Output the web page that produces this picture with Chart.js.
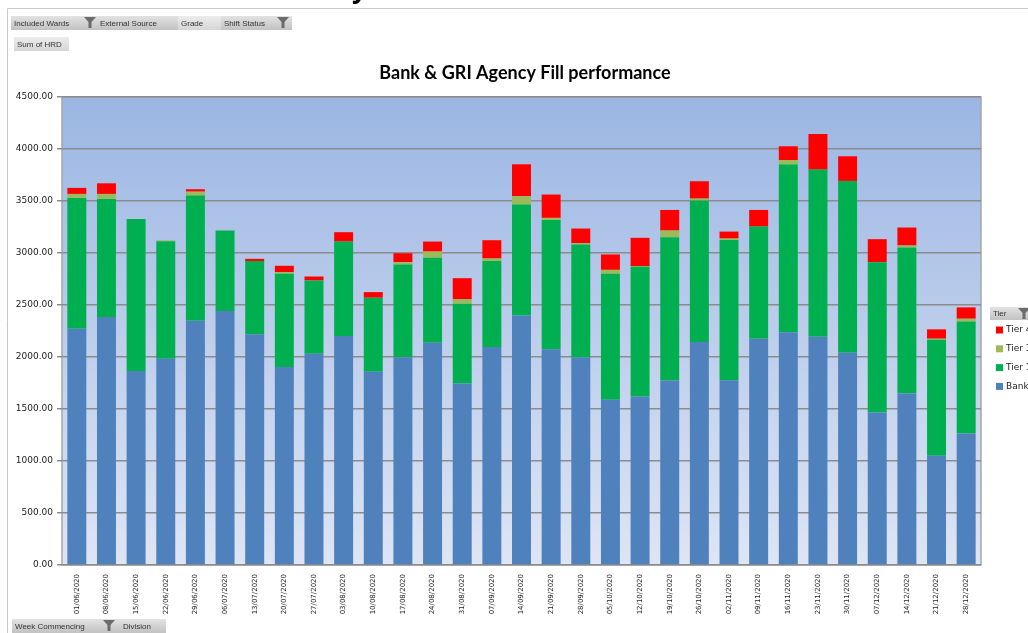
<!DOCTYPE html>
<html>
<head>
<meta charset="utf-8">
<script src="https://cdn.jsdelivr.net/npm/chart.js@4.4.1/dist/chart.umd.min.js"></script>
<style>
  html, body { margin: 0; padding: 0; background: #fff; }
</style>
</head>
<body>
<canvas id="fillChart" width="1028" height="633"></canvas>
<script>
// Week commencing labels
const weeks = [
  "01/06/2020", "08/06/2020", "15/06/2020", "22/06/2020", "29/06/2020",
  "06/07/2020", "13/07/2020", "20/07/2020", "27/07/2020", "03/08/2020",
  "10/08/2020", "17/08/2020", "24/08/2020", "31/08/2020", "07/09/2020",
  "14/09/2020", "21/09/2020", "28/09/2020", "05/10/2020", "12/10/2020",
  "19/10/2020", "26/10/2020", "02/11/2020", "09/11/2020", "16/11/2020",
  "23/11/2020", "30/11/2020", "07/12/2020", "14/12/2020", "21/12/2020",
  "28/12/2020"
];

// Sum of HRD per tier
const bank = [2272, 2384, 1866, 1984, 2349, 2442, 2218, 1904, 2032, 2202, 1859,
  1997, 2138, 1744, 2096, 2400, 2074, 1994, 1590, 1619, 1773, 2144, 1776, 2176,
  2237, 2195, 2042, 1466, 1648, 1050, 1264];
const tier1 = [1258, 1136, 1462, 1130, 1203, 774, 704, 896, 704, 908, 711,
  893, 816, 768, 826, 1066, 1244, 1088, 1210, 1248, 1379, 1360, 1350, 1078,
  1613, 1607, 1651, 1446, 1405, 1116, 1078];
const tier3 = [38, 48, 0, 8, 38, 0, 0, 16, 0, 0, 0, 22, 60, 42, 25, 80, 20,
  12, 38, 7, 64, 19, 13, 0, 44, 0, 0, 0, 19, 10, 26];
const tier4 = [58, 102, 0, 0, 23, 0, 22, 61, 38, 90, 54, 86, 96, 204, 176,
  307, 224, 141, 148, 272, 198, 167, 67, 160, 132, 342, 237, 221, 173, 90, 109];

// Axis range
const yMin = 0;
const yMax = 4500;
const yStep = 500;

const tierNames = ["Bank", "Tier 1", "Tier 3", "Tier 4"];
const tierColours = ["#4f81bd", "#00b050", "#9bbb59", "#ff0000"];

// Little funnel icon used on the pivot field buttons
function drawFunnel(ctx, x, y) {
  ctx.fillStyle = "#6b6b6b";
  ctx.beginPath();
  ctx.moveTo(x, y);
  ctx.lineTo(x + 12, y);
  ctx.lineTo(x + 7.5, y + 5);
  ctx.lineTo(x + 7.5, y + 11);
  ctx.lineTo(x + 4.5, y + 11);
  ctx.lineTo(x + 4.5, y + 5);
  ctx.closePath();
  ctx.fill();
}

function drawButton(ctx, x, y, w, h, label, light) {
  const g = ctx.createLinearGradient(0, y, 0, y + h);
  if (light) {
    g.addColorStop(0, "#ececec");
    g.addColorStop(1, "#d6d6d6");
  } else {
    g.addColorStop(0, "#e2e2e2");
    g.addColorStop(1, "#c2c2c2");
  }
  ctx.fillStyle = g;
  ctx.fillRect(x, y, w, h);
  ctx.fillStyle = "#333";
  ctx.font = "8px 'Liberation Sans'";
  ctx.textAlign = "left";
  ctx.textBaseline = "middle";
  ctx.fillText(label, x + 3, y + h / 2 + 0.5);
}

const pivotDecor = {
  id: "pivotDecor",
  beforeDraw(chart) {
    const ctx = chart.ctx;
    const area = chart.chartArea;
    ctx.save();
    ctx.fillStyle = "#fff";
    ctx.fillRect(0, 0, chart.width, chart.height);

    // cropped heading fragment above the frame
    ctx.fillStyle = "#000";
    ctx.font = "bold 26px 'Open Sans'";
    ctx.textBaseline = "alphabetic";
    ctx.fillText("y", 352, -2);

    // outer frame
    ctx.strokeStyle = "#c8c8c8";
    ctx.lineWidth = 1;
    ctx.beginPath();
    ctx.moveTo(7.5, 633);
    ctx.lineTo(7.5, 8.5);
    ctx.lineTo(1028, 8.5);
    ctx.stroke();

    // pivot field buttons
    drawButton(ctx, 11, 16, 86, 14, "Included Wards");
    drawFunnel(ctx, 84, 17);
    drawButton(ctx, 97, 16, 81, 14, "External Source");
    drawButton(ctx, 178, 16, 43, 14, "Grade", true);
    drawButton(ctx, 221, 16, 71, 14, "Shift Status");
    drawFunnel(ctx, 277, 17);
    drawButton(ctx, 14, 37, 55, 14, "Sum of HRD", true);
    drawButton(ctx, 12, 619, 108, 14, "Week Commencing");
    drawFunnel(ctx, 103, 620);
    drawButton(ctx, 120, 619, 46, 14, "Division");

    // legend header
    drawButton(ctx, 990, 307, 38, 13, "Tier");
    drawFunnel(ctx, 1018, 308);

    // title
    ctx.fillStyle = "#000";
    ctx.font = "bold 18px Lato";
    ctx.textAlign = "center";
    ctx.textBaseline = "alphabetic";
    ctx.fillText("Bank & GRI Agency Fill performance", 525, 79);

    // plot area gradient
    const g = ctx.createLinearGradient(0, area.top, 0, area.bottom);
    g.addColorStop(0, "#9bb6e3");
    g.addColorStop(1, "#dee5f4");
    ctx.fillStyle = g;
    ctx.fillRect(area.left, area.top, area.right - area.left, area.bottom - area.top);
    ctx.strokeStyle = "#a6a6a6";
    ctx.lineWidth = 1.5;
    ctx.strokeRect(area.left, area.top, area.right - area.left, area.bottom - area.top);
    ctx.restore();
  },
  afterDraw(chart) {
    const ctx = chart.ctx;
    ctx.save();
    // legend, top item = last dataset
    const sets = chart.data.datasets;
    ctx.font = "9px 'DejaVu Sans'";
    ctx.textAlign = "left";
    ctx.textBaseline = "middle";
    for (let i = 0; i < sets.length; i++) {
      const ds = sets[sets.length - 1 - i];
      const cy = 330 + i * 18.8;
      ctx.fillStyle = ds.backgroundColor;
      ctx.fillRect(996, cy - 3.5, 7, 7);
      ctx.fillStyle = "#222";
      ctx.fillText(ds.label, 1006, cy);
    }
    ctx.restore();
  }
};

const seriesData = [bank, tier1, tier3, tier4];

const ctx = document.getElementById("fillChart").getContext("2d");
new Chart(ctx, {
  type: "bar",
  data: {
    labels: weeks,
    datasets: seriesData.map((values, i) => ({
      label: tierNames[i],
      data: values,
      backgroundColor: tierColours[i],
      borderWidth: 0,
      categoryPercentage: 1,
      barPercentage: 0.64,
    })),
  },
  options: {
    responsive: false,
    animation: false,
    devicePixelRatio: 1,
    layout: { padding: { left: 0, top: 97, right: 47, bottom: 0 } },
    plugins: {
      legend: { display: false },
      title: { display: false },
      tooltip: { enabled: false },
    },
    scales: {
      x: {
        stacked: true,
        grid: { display: false },
        border: { display: false },
        ticks: {
          autoSkip: false,
          minRotation: 90,
          maxRotation: 90,
          padding: 1,
          color: "#222",
          font: { family: "'DejaVu Sans'", size: 7 },
        },
        afterFit(scale) { scale.height = 68; },
      },
      y: {
        stacked: true,
        min: yMin,
        max: yMax,
        grid: { color: "#8c8c8c", lineWidth: 1.5, tickLength: 5 },
        border: { display: false },
        ticks: {
          stepSize: yStep,
          padding: 4,
          color: "#222",
          font: { family: "'DejaVu Sans'", size: 9 },
          callback: (v) => Number(v).toFixed(2),
        },
        afterFit(scale) { scale.width = 62; },
      },
    },
  },
  plugins: [pivotDecor],
});
</script>
</body>
</html>
